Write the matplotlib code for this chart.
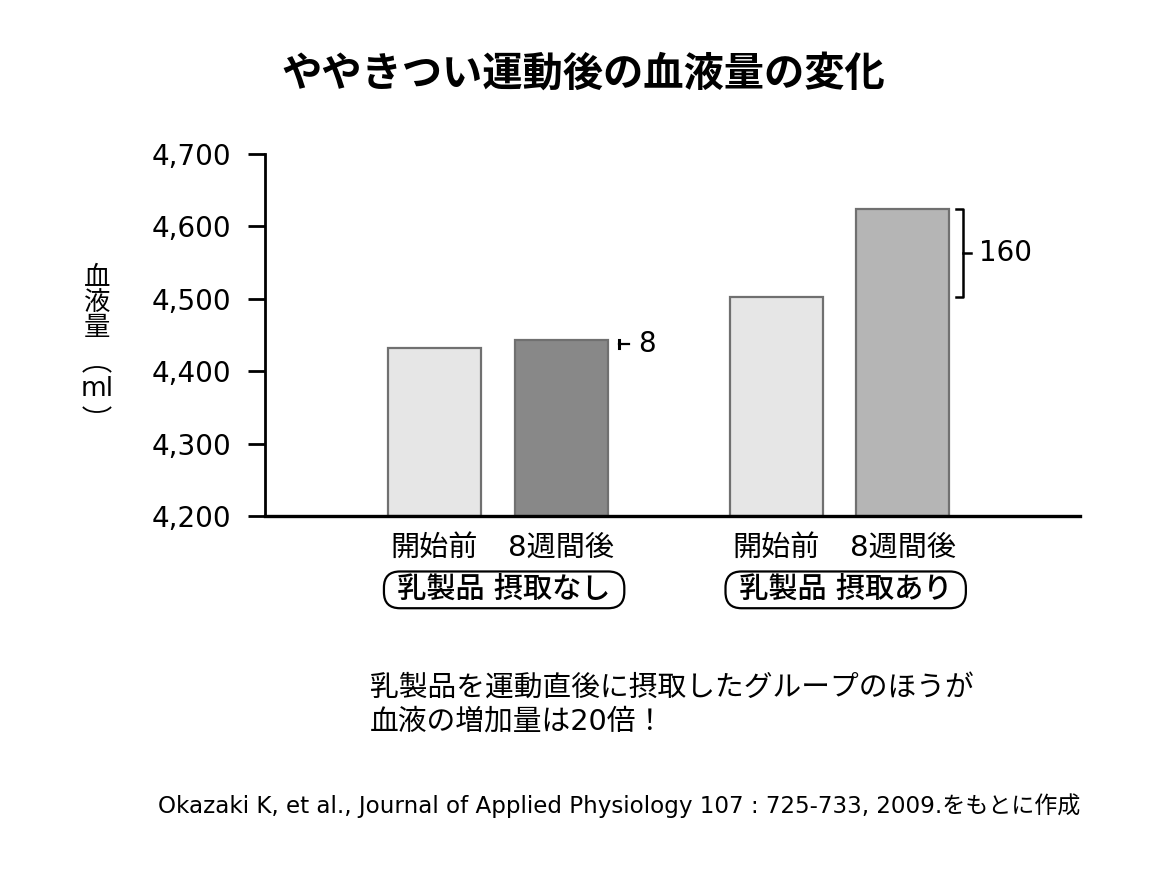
import matplotlib.pyplot as plt
from matplotlib.patches import Arc
from matplotlib.ticker import FuncFormatter

plt.rcParams['font.family'] = ['DejaVu Sans', 'Noto Sans CJK JP']

# values (ml)
labels = ['開始前', '8週間後', '開始前', '8週間後']
values = [4432, 4443, 4503, 4624]
positions = [0, 1, 2.7, 3.7]
colors = ['#e6e6e6', '#888888', '#e6e6e6', '#b5b5b5']
groups = ['乳製品 摂取なし', '乳製品 摂取あり']
diffs = ['8', '160']
yticks = [4200, 4300, 4400, 4500, 4600, 4700]

W, H = 1166, 881
fig = plt.figure(figsize=(W / 100, H / 100), dpi=100)
ax = fig.add_axes([0.2273, 0.4143, 0.6987, 0.4109])

ax.bar(positions, [v - 4200 for v in values], bottom=4200, width=0.735,
       color=colors, edgecolor='#707070', linewidth=1.6, zorder=2)

ax.set_xlim(-1.34, 5.10)
ax.set_ylim(4200, 4700)
ax.set_yticks(yticks)
ax.yaxis.set_major_formatter(FuncFormatter(lambda v, p: f'{int(v):,}'))
ax.set_xticks(positions)
ax.set_xticklabels(labels, fontsize=21)
ax.tick_params(axis='x', length=0, pad=13)
ax.tick_params(axis='y', length=12, width=2, labelsize=20, pad=12, direction='out')
for s in ['top', 'right']:
    ax.spines[s].set_visible(False)
ax.spines['left'].set_linewidth(2)
ax.spines['bottom'].set_linewidth(2.4)
ax.spines['bottom'].set_zorder(3)

# difference brackets
bx = positions[1] + 0.46
ax.plot([bx, bx], [values[0], values[1]], color='black', lw=2.2, clip_on=False)
ax.plot([bx, bx + 0.08], [(values[0] + values[1]) / 2] * 2, color='black', lw=1.6, clip_on=False)
ax.text(bx + 0.15, (values[0] + values[1]) / 2, diffs[0], fontsize=20, va='center', ha='left')

bx = positions[3] + 0.48
ax.plot([bx - 0.06, bx, bx, bx - 0.06], [values[2], values[2], values[3], values[3]],
        color='black', lw=1.8, clip_on=False)
mid = (values[2] + values[3]) / 2
ax.plot([bx, bx + 0.06], [mid, mid], color='black', lw=1.8, clip_on=False)
ax.text(bx + 0.12, mid, diffs[1], fontsize=20, va='center', ha='left')

# group labels in rounded boxes
for i, g in enumerate(groups):
    cx = (positions[2 * i] + positions[2 * i + 1]) / 2 + 0.05
    ax.text(cx, -0.204, ' ' + g + ' ', transform=ax.get_xaxis_transform(), ha='center', va='center',
            fontsize=21, fontweight='medium',
            bbox=dict(boxstyle='round,pad=0.15,rounding_size=0.55', fc='white', ec='black', lw=1.6))

# y label (vertical writing): 血液量（ml）
fig.text(97 / W, 1 - 303 / H, '血\n液\n量', fontsize=19, ha='center', va='center', linespacing=0.95)
fig.text(97 / W, 1 - 389 / H, 'ml', fontsize=19, ha='center', va='center')
fig.add_artist(Arc((97 / W, 1 - 375 / H), 30 / W, 16 / H, theta1=15, theta2=165,
                   transform=fig.transFigure, color='black', lw=1.3))
fig.add_artist(Arc((97 / W, 1 - 404 / H), 30 / W, 16 / H, theta1=195, theta2=345,
                   transform=fig.transFigure, color='black', lw=1.3))

fig.text(0.5, 1 - 75 / H, 'ややきつい運動後の血液量の変化', fontsize=29, fontweight='bold',
         ha='center', va='center')
fig.text(370 / W, 1 - 688 / H, '乳製品を運動直後に摂取したグループのほうが', fontsize=20.7, va='center')
fig.text(370 / W, 1 - 722 / H, '血液の増加量は20倍！', fontsize=20.7, va='center')
fig.text(1080 / W, 1 - 806 / H,
         'Okazaki K, et al., Journal of Applied Physiology 107 : 725-733, 2009.をもとに作成',
         fontsize=16.6, ha='right', va='center')

fig.savefig('out.png', dpi=100, facecolor='white')
